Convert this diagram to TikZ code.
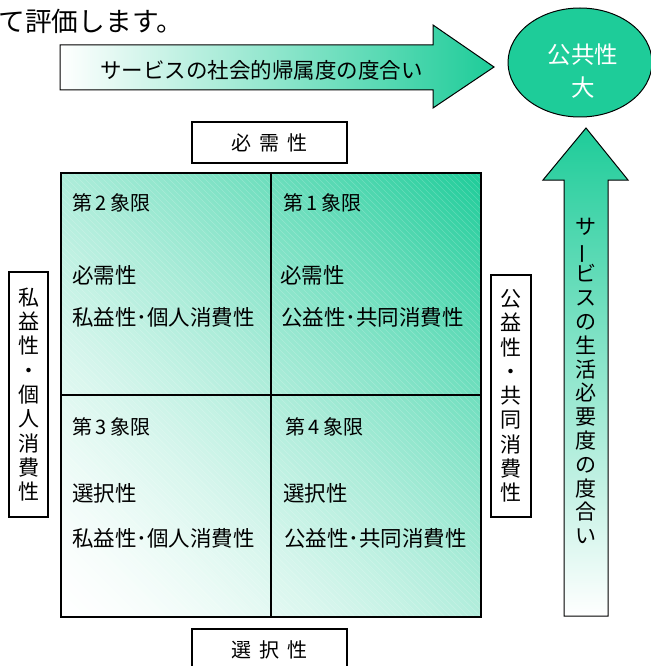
\documentclass[tikz,border=0pt]{standalone}
\usepackage{fontspec}
\setmainfont{Noto Sans CJK JP}
\usepackage{graphicx}
\usetikzlibrary{shapes.geometric}
\definecolor{grn}{RGB}{30,204,153}
\begin{document}
\begin{tikzpicture}[x=1pt,y=-1pt,
  every node/.style={inner sep=0pt, outer sep=0pt},
  qtext/.style={anchor=west, font=\fontsize{21.5}{24}\selectfont},
  qtitle/.style={anchor=west, font=\fontsize{20}{24}\selectfont},
  lbox/.style={draw, line width=1.2pt, fill=white},
  vtext/.style={align=center, font=\fontsize{21}{24.3}\selectfont},
  arrowline/.style={draw=black, line width=1pt}]
\useasboundingbox (0,0) rectangle (650,666);

% intro text
\node[anchor=west, font=\fontsize{26.7}{30}\selectfont] (intro) at (-1.5,21) {て評価します。};

% horizontal arrow
\path[arrowline, left color=white, right color=grn]
  (60,45) -- (433,45) -- (433,25) -- (494,67) -- (433,108) -- (433,90) -- (60,90) -- cycle;
\node[font=\fontsize{21.5}{24}\selectfont] (hat) at (261.5,70) {サービスの社会的帰属度の度合い};

% circle
\node[ellipse, draw, line width=1pt, fill=grn, minimum width=144pt, minimum height=109pt] (pub) at (580,62.5) {};
\node[font=\fontsize{23.5}{33}\selectfont, text=white, align=center] (pubtxt) at (583,71) {公共性\\大};

% vertical arrow
\path[arrowline, top color=grn, bottom color=white]
  (564,616) -- (564,180) -- (543,180) -- (586,128) -- (628,180) -- (608,180) -- (608,616) -- cycle;
\node[vtext, font=\fontsize{21}{23.8}\selectfont] (vat) at (586,381)
  {サ\\\rotatebox[origin=c]{90}{ー}\\ビ\\ス\\の\\生\\活\\必\\要\\度\\の\\度\\合\\い};

% grid background: diagonal bands from bottom-left (white) to top-right (green)
\begin{scope}
\clip (61,173) rectangle (481,617);
\foreach \i [evaluate=\i as \bandp using {100*((\i+0.5)/96)^1.5},
             evaluate=\i as \banda using {61+\i*9},
             evaluate=\i as \bandb using {61+\i*9+9.8}] in {0,...,95} {
  \fill[color=grn!\bandp!white] (\banda,617) -- (\bandb,617) -- ({\bandb-700},-83) -- ({\banda-700},-83) -- cycle;
}
\foreach \k in {0,...,145} {
  \draw[white, opacity=0.2, line width=0.6pt] ({61+\k*6-500},{617-500}) -- ({61+\k*6},617);
}
\end{scope}
\coordinate (gt) at (271,173);
\coordinate (gb) at (271,617);
\coordinate (gl) at (61,395);
\coordinate (gr) at (481,395);
\draw[line width=1.5pt] (gt) -- (gb);
\draw[line width=1.5pt] (gl) -- (gr);
\draw[line width=2.5pt] (61,173) rectangle (481,617);

% quadrant texts
\node[qtitle] (q2t) at (72,203) {第\hspace{3.5pt}2\hspace{3.5pt}象限};
\node[qtext] (q2a) at (72,275) {必需性};
\node[qtext] (q2b) at (72,317) {私益性･個人消費性};
\node[qtitle] (q1t) at (283,203) {第\hspace{3.5pt}1\hspace{3.5pt}象限};
\node[qtext] (q1a) at (280,275) {必需性};
\node[qtext] (q1b) at (281,317) {公益性･共同消費性};
\node[qtitle] (q3t) at (72,427) {第\hspace{3.5pt}3\hspace{3.5pt}象限};
\node[qtext] (q3a) at (72,493) {選択性};
\node[qtext] (q3b) at (72,538) {私益性･個人消費性};
\node[qtitle] (q4t) at (285,427) {第\hspace{3.5pt}4\hspace{3.5pt}象限};
\node[qtext] (q4a) at (283,493) {選択性};
\node[qtext] (q4b) at (284,538) {公益性･共同消費性};

% label boxes
\node[lbox, minimum width=155pt, minimum height=41pt, font=\fontsize{20}{24}\selectfont] (need) at (269.5,142.5) {必\hspace{8pt}需\hspace{8pt}性};
\node[lbox, minimum width=155pt, minimum height=41pt, font=\fontsize{20}{24}\selectfont] (choice) at (269.5,649.5) {選\hspace{8pt}択\hspace{8pt}性};
\node[lbox, vtext, minimum width=39pt, minimum height=245pt] (priv) at (28.5,394.5) {私\\益\\性\\・\\個\\人\\消\\費\\性};
\node[lbox, vtext, minimum width=40pt, minimum height=242pt] (pubv) at (511,396) {公\\益\\性\\・\\共\\同\\消\\費\\性};
\end{tikzpicture}
\end{document}
